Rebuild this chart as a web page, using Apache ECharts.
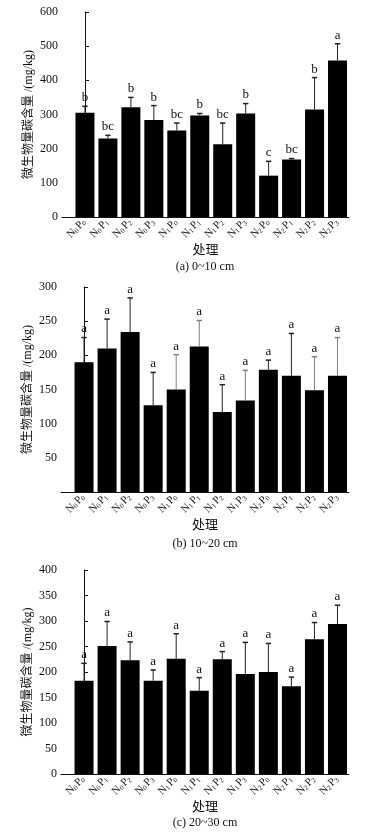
<!DOCTYPE html>
<html>
<head>
<meta charset="utf-8">
<script src="https://cdn.jsdelivr.net/npm/echarts@6/dist/echarts.min.js"></script>
<style>
  html, body { margin: 0; padding: 0; background: #fff; }
  #main { width: 375px; height: 838px; }
</style>
</head>
<body>
<div id="main"></div>
<script>
// treatments: N level and P level of each bar
var nLevels = ['0','0','0','0','1','1','1','1','2','2','2','2'];
var pLevels = ['0','1','2','3','0','1','2','3','0','1','2','3'];

// (a) 0~10 cm
var meanA = [305, 230, 321, 284, 253, 297, 213, 303, 121, 168, 315, 458];
var sdA = [19, 9, 29, 42, 22, 6, 62, 29, 42, 3, 93, 49];
var letA = ['b', 'bc', 'b', 'b', 'bc', 'b', 'bc', 'b', 'c', 'bc', 'b', 'a'];

// (b) 10~20 cm
var meanB = [190, 210, 234, 127, 150, 213, 117, 134, 179, 170, 149, 170];
var sdB = [36, 43, 50, 48, 51, 38, 40, 44, 14, 62, 49, 56];
var letB = ['a', 'a', 'a', 'a', 'a', 'a', 'a', 'a', 'a', 'a', 'a', 'a'];

// (c) 20~30 cm
var meanC = [183, 251, 223, 183, 226, 163, 225, 196, 200, 172, 264, 294];
var sdC = [34, 48, 36, 21, 49, 26, 15, 62, 56, 18, 33, 37];
var letC = ['a', 'a', 'a', 'a', 'a', 'a', 'a', 'a', 'a', 'a', 'a', 'a'];

var yTicksA = [0, 600, 100];
var yTicksB = [0, 300, 50];
var yTicksC = [0, 400, 50];

var captions = ['(a) 0~10 cm', '(b) 10~20 cm', '(c) 20~30 cm'];
var yName = '微生物量碳含量 /(mg/kg)';
var xName = '处理';

var FONT = '"Liberation Serif", "Times New Roman", "Noto Sans CJK SC", serif';

// grid placement for the three panels
var grids = [
    { left: 62, right: 26, top: 12, height: 205 },
    { left: 61, right: 26, top: 287, height: 205 },
    { left: 61, right: 26, top: 570, height: 204 }
];
var captionY = [267, 544, 823];
// lighter error bars seen in panel b
var greyErr = [[], [4, 5, 7, 10, 11], []];

function makeX(idx) {
    return {
        type: 'value',
        gridIndex: idx,
        min: -1,
        max: 11.5,
        interval: 1,
        name: xName,
        nameLocation: 'middle',
        nameGap: 27,
        nameMoveOverlap: false,
        nameTextStyle: { fontFamily: FONT, fontSize: 13, color: '#111' },
        axisLine: { show: true, lineStyle: { color: '#111', width: 1 } },
        axisTick: { show: false },
        splitLine: { show: false },
        axisLabel: {
            rotate: 45,
            margin: 3,
            showMinLabel: false,
            showMaxLabel: false,
            formatter: function (v) {
                if (v < 0 || v > 11 || v !== Math.round(v)) return '';
                return '{n|N}{s|' + nLevels[v] + '}{n|P}{s|' + pLevels[v] + '}';
            },
            rich: {
                n: { fontFamily: FONT, fontSize: 11, color: '#111', verticalAlign: 'bottom' },
                s: { fontFamily: FONT, fontSize: 7, color: '#111', verticalAlign: 'bottom', padding: [0, 1, 0, 0] }
            }
        }
    };
}

function makeY(idx, ticks, hideZero) {
    return {
        type: 'value',
        gridIndex: idx,
        min: ticks[0],
        max: ticks[1],
        interval: ticks[2],
        name: yName,
        nameLocation: 'middle',
        nameGap: 27,
        nameMoveOverlap: false,
        nameTextStyle: { fontFamily: FONT, fontSize: 12, color: '#111' },
        axisLine: { show: true, lineStyle: { color: '#111', width: 1 } },
        axisTick: { show: true, inside: true, length: 4, lineStyle: { color: '#111' } },
        splitLine: { show: false },
        axisLabel: {
            margin: 4,
            fontFamily: FONT,
            fontSize: 12,
            color: '#111',
            formatter: function (v) {
                if (hideZero && v === 0) return '';
                return v;
            }
        }
    };
}

function barSeries(idx, means) {
    return {
        type: 'bar',
        xAxisIndex: idx,
        yAxisIndex: idx,
        barWidth: 19,
        silent: true,
        itemStyle: { color: '#000' },
        data: means.map(function (v, i) { return [i, v]; })
    };
}

function errSeries(idx, means, sds, letters) {
    return {
        type: 'custom',
        xAxisIndex: idx,
        yAxisIndex: idx,
        silent: true,
        z: 3,
        data: means.map(function (v, i) { return [i, v, sds[i]]; }),
        renderItem: function (params, api) {
            var i = api.value(0);
            var base = api.coord([i, api.value(1)]);
            var top = api.coord([i, api.value(1) + api.value(2)]);
            var col = greyErr[idx].indexOf(params.dataIndex) >= 0 ? '#808080' : '#222';
            return {
                type: 'group',
                children: [
                    { type: 'line', shape: { x1: base[0], y1: base[1], x2: top[0], y2: top[1] },
                      style: { stroke: col, lineWidth: 1 } },
                    { type: 'line', shape: { x1: top[0] - 2.7, y1: top[1], x2: top[0] + 2.7, y2: top[1] },
                      style: { stroke: col, lineWidth: 1.5 } },
                    { type: 'text', x: top[0], y: top[1] - 2,
                      style: { text: letters[params.dataIndex], fontFamily: FONT, fontSize: 13,
                               fill: '#111', align: 'center', verticalAlign: 'bottom' } }
                ]
            };
        }
    };
}

var myChart = echarts.init(document.getElementById('main'), null, { renderer: 'canvas' });

var option = {
    animation: false,
    backgroundColor: '#fff',
    grid: grids,
    xAxis: [makeX(0), makeX(1), makeX(2)],
    yAxis: [makeY(0, yTicksA, false), makeY(1, yTicksB, true), makeY(2, yTicksC, false)],
    graphic: captions.map(function (c, k) {
        return {
            type: 'text',
            x: 205,
            y: captionY[k],
            style: { text: c, fontFamily: FONT, fontSize: 12, fill: '#111',
                     align: 'center', verticalAlign: 'middle' }
        };
    }),
    series: [
        barSeries(0, meanA), errSeries(0, meanA, sdA, letA),
        barSeries(1, meanB), errSeries(1, meanB, sdB, letB),
        barSeries(2, meanC), errSeries(2, meanC, sdC, letC)
    ]
};

myChart.setOption(option);
</script>
</body>
</html>
